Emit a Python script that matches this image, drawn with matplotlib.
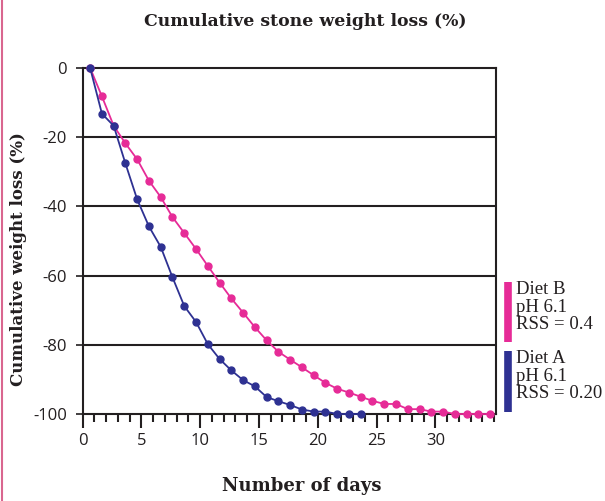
import matplotlib
matplotlib.use("Agg")
import matplotlib.pyplot as plt
from matplotlib.lines import Line2D
from matplotlib.ticker import MultipleLocator

plt.rcParams["axes.unicode_minus"] = False

days_a = [0.65, 1.65, 2.65, 3.65, 4.65, 5.65, 6.65, 7.65, 8.65, 9.65, 10.65, 11.65,
          12.65, 13.65, 14.65, 15.65, 16.65, 17.65, 18.65, 19.65, 20.65, 21.65, 22.65, 23.65]
loss_a = [0, -13.2, -16.7, -27.6, -38.0, -45.8, -51.7, -60.5, -68.8, -73.4, -79.8, -84.1,
          -87.4, -90.2, -92.0, -95.1, -96.3, -97.4, -98.7, -99.3, -99.3, -100, -100, -100]

days_b = [0.65, 1.65, 2.65, 3.65, 4.65, 5.65, 6.65, 7.65, 8.65, 9.65, 10.65, 11.65,
          12.65, 13.65, 14.65, 15.65, 16.65, 17.65, 18.65, 19.65, 20.65, 21.65, 22.65,
          23.65, 24.65, 25.65, 26.65, 27.65, 28.65, 29.65, 30.65, 31.65, 32.65, 33.65, 34.65]
loss_b = [0, -8.2, -16.7, -21.8, -26.4, -32.6, -37.3, -43.1, -47.7, -52.3, -57.2, -62.0,
          -66.6, -70.7, -74.9, -78.7, -82.0, -84.3, -86.5, -88.8, -91.0, -92.7, -93.8,
          -95.0, -96.2, -97.1, -97.1, -98.6, -98.6, -99.3, -99.3, -100, -100, -100, -100]

x_ticks = [0, 5, 10, 15, 20, 25, 30]
y_ticks = [0, -20, -40, -60, -80, -100]

label_b = "Diet B\npH 6.1\nRSS = 0.4"
label_a = "Diet A\npH 6.1\nRSS = 0.20"

pink = "#E62B97"
blue = "#2E3192"

fig = plt.figure(figsize=(6.05, 5.01), dpi=100)
ax = fig.add_axes([82.5 / 605, 1 - 414 / 501, (496 - 82.5) / 605, (414 - 68) / 501])

for y in y_ticks[1:-1]:
    ax.axhline(y, color="#231F20", lw=1.5, zorder=1)

ax.plot(days_b, loss_b, color=pink, lw=1.3, marker="o", ms=5, clip_on=False, zorder=3)
ax.plot(days_a, loss_a, color=blue, lw=1.3, marker="o", ms=5, clip_on=False, zorder=4)

ax.set_xlim(0, 35.15)
ax.set_ylim(-100, 0)
ax.set_xticks(x_ticks)
ax.xaxis.set_minor_locator(MultipleLocator(1))
ax.set_yticks(y_ticks)
for s in ax.spines.values():
    s.set_color("#231F20")
    s.set_linewidth(1.5)
ax.tick_params(axis="x", which="major", length=10, width=1.5, direction="out",
               color="#231F20", labelsize=12, pad=3.5)
ax.tick_params(axis="x", which="minor", length=6, width=1.5, direction="out", color="#231F20")
ax.tick_params(axis="y", which="major", length=5, width=1.2, direction="out",
               color="#231F20", labelsize=12, pad=6)
for lab in ax.get_xticklabels() + ax.get_yticklabels():
    lab.set_fontfamily("Open Sans")
    lab.set_color("#231F20")

fig.text(305 / 605, 1 - 21 / 501, "Cumulative stone weight loss (%)", ha="center", va="center",
         fontsize=12.4, fontweight="bold", family="DejaVu Serif", color="#231F20")
fig.text(302 / 605, 1 - 486 / 501, "Number of days", ha="center", va="center",
         fontsize=13, fontweight="bold", family="DejaVu Serif", color="#231F20")
fig.text(19 / 605, 1 - 259 / 501, "Cumulative weight loss (%)", ha="center", va="center",
         rotation=90, fontsize=12, fontweight="bold", family="DejaVu Serif", color="#231F20")

# colored key bars
fig.add_artist(Line2D([507.5 / 605, 507.5 / 605], [1 - 282 / 501, 1 - 342 / 501],
                      color=pink, lw=5.5, solid_capstyle="butt"))
fig.add_artist(Line2D([507.5 / 605, 507.5 / 605], [1 - 351 / 501, 1 - 412 / 501],
                      color=blue, lw=5.5, solid_capstyle="butt"))
fig.text(516 / 605, 1 - 281 / 501, label_b, ha="left", va="top", fontsize=13.5,
         family="Liberation Serif", color="#231F20", linespacing=1.05)
fig.text(516 / 605, 1 - 350 / 501, label_a, ha="left", va="top", fontsize=13.5,
         family="Liberation Serif", color="#231F20", linespacing=1.05)

# left page border
fig.add_artist(Line2D([2 / 605, 2 / 605], [0, 1], color="#D9668F", lw=1.5))

fig.savefig("out.png", dpi=100)
